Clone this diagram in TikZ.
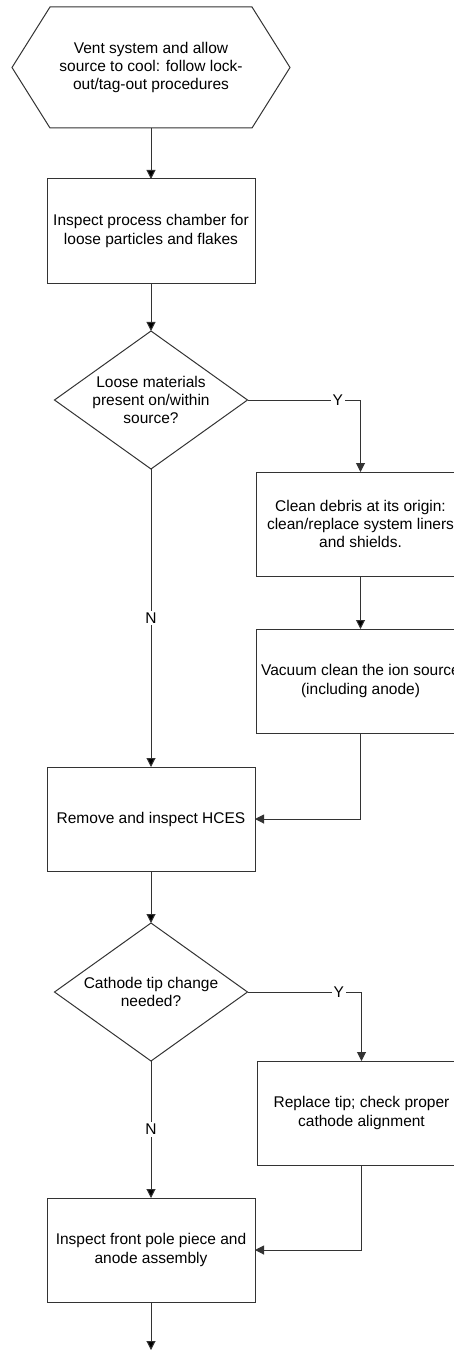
\documentclass[tikz,border=0pt]{standalone}
\usepackage{fontspec}
\setmainfont{Liberation Sans}
\usetikzlibrary{positioning,shapes.geometric,arrows.meta}

\tikzset{
  every node/.style={font=\fontsize{15.5}{18.3}\selectfont, outer sep=0pt},
  process/.style={draw=black!80, rectangle, minimum width=208pt, minimum height=104pt, align=center, inner sep=2pt},
  decision/.style={draw=black!80, diamond, aspect=1.4, minimum width=193pt, minimum height=138pt, align=center, inner sep=0pt},
  prep/.style={rectangle, minimum width=278pt, minimum height=121pt, align=center},
  flow/.style={draw=black!80, -{Triangle[length=9pt,width=9pt]}},
  answer/.style={fill=white, inner sep=2pt}
}

\begin{document}
\begin{tikzpicture}[x=1pt, y=1pt, line width=1pt]
  \useasboundingbox (0,0) rectangle (453,-1351);

  \node[prep] (vent) at (151,-67.5) {Vent system and allow\\source to cool: follow lock-\\out/tag-out procedures};
  \draw[black!80] (vent.west) -- ([xshift=38pt]vent.north west) -- ([xshift=-38pt]vent.north east)
    -- (vent.east) -- ([xshift=-38pt]vent.south east) -- ([xshift=38pt]vent.south west) -- cycle;

  \node[process] (chamber) [below=51pt of vent] {Inspect process chamber for\\loose particles and flakes};
  \node[decision] (loose) [below=48pt of chamber] {Loose materials\\present on/within\\source?};
  \node[process] (debris) [below right=72pt and 9pt of loose.east] {Clean debris at its origin:\\clean/replace system liners\\and shields.};
  \node[process] (vacuum) [below=53pt of debris] {Vacuum clean the ion source\\(including anode)};
  \node[process] (hces) [below=298pt of loose] {Remove and inspect HCES};
  \node[decision] (tip) [below=52pt of hces] {Cathode tip change\\needed?};
  \node[process] (replace) [below right=69pt and 10pt of tip.east] {Replace tip; check proper\\cathode alignment};
  \node[process] (pole) [below=137pt of tip] {Inspect front pole piece and\\anode assembly};
  \coordinate (next) at ([yshift=-48pt]pole.south);

  \path[flow]
    (vent) edge (chamber)
    (chamber) edge (loose)
    (loose) edge node[answer] {N} (hces)
    (debris) edge (vacuum)
    (hces) edge (tip)
    (tip) edge node[answer] {N} (pole)
    (pole) edge (next);
  \draw[flow] (loose.east) -| node[answer, pos=0.4] {Y} (debris.north);
  \draw[flow] (vacuum.south) |- (hces.east);
  \draw[flow] (tip.east) -| node[answer, pos=0.4] {Y} (replace.north);
  \draw[flow] (replace.south) |- (pole.east);
\end{tikzpicture}
\end{document}
